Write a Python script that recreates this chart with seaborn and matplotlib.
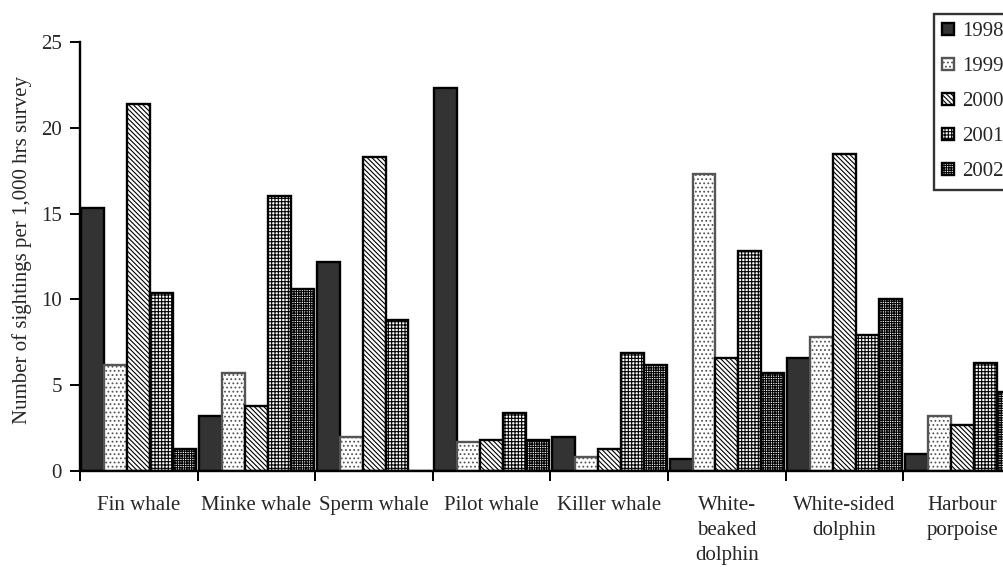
#!/usr/bin/env python3
# grouped bar chart: cetacean sightings rate per species and year
import pandas as pd
import matplotlib
matplotlib.use('Agg')
import matplotlib.pyplot as plt
import seaborn as sns

species = ['Fin whale', 'Minke whale', 'Sperm whale', 'Pilot whale', 'Killer whale',
           'White-\nbeaked\ndolphin', 'White-sided\ndolphin', 'Harbour\nporpoise']
years = ['1998', '1999', '2000', '2001', '2002']
y1998 = [15.3, 3.2, 12.2, 22.3, 2.0, 0.7, 6.6, 1.0]
y1999 = [6.2, 5.7, 2.0, 1.7, 0.8, 17.3, 7.8, 3.2]
y2000 = [21.4, 3.8, 18.3, 1.8, 1.3, 6.6, 18.5, 2.7]
y2001 = [10.4, 16.0, 8.8, 3.4, 6.9, 12.8, 7.9, 6.3]
y2002 = [1.3, 10.6, 0.0, 1.8, 6.2, 5.7, 10.0, 4.6]

rows = []
for yr, vals in zip(years, [y1998, y1999, y2000, y2001, y2002]):
    for sp, v in zip(species, vals):
        rows.append({'species': sp, 'year': yr, 'rate': v})
df = pd.DataFrame(rows)

sns.set_theme(style='white', rc={'axes.spines.top': False, 'axes.spines.right': False})
plt.rcParams['font.family'] = ['Liberation Serif', 'DejaVu Serif']
plt.rcParams['hatch.linewidth'] = 0.8

fs = 15
fills = {'1998': '#333333', '1999': 'white', '2000': 'white', '2001': 'white', '2002': 'white'}
edges = {'1998': 'black', '1999': '#555555', '2000': 'black', '2001': 'black', '2002': 'black'}
hatch_cols = {'1998': 'black', '1999': '#c8c8c8', '2000': '#111111', '2001': '#555555', '2002': '#111111'}
hatches = {'1998': '', '1999': '....', '2000': '\\' * 7, '2001': '+' * 5, '2002': '+' * 7}

fig = plt.figure(figsize=(10.04, 5.67), dpi=100)
ax = fig.add_axes([80 / 1004, 96 / 567, 941 / 1004, 429 / 567])

sns.barplot(data=df, x='species', y='rate', hue='year', order=species, hue_order=years,
            palette=fills, width=0.975, edgecolor='black', linewidth=1.7,
            legend=False, ax=ax)

for cont, yr in zip(ax.containers, years):
    for p in cont:
        p.set_facecolor(fills[yr])
        p.set_edgecolor(edges[yr])
        p.set_hatch(hatches[yr])
        if hasattr(p, 'set_hatchcolor'):
            p.set_hatchcolor(hatch_cols[yr])

ax.set_xlim(-0.5, len(species) - 0.5)
ax.set_ylim(0, 25)
ax.set_yticks([0, 5, 10, 15, 20, 25])
ax.set_xticks([i - 0.5 for i in range(len(species) + 1)])
ax.set_xticklabels([])
ax.set_xticks(range(len(species)), minor=True)
ax.set_xticklabels(species, minor=True, fontsize=fs, linespacing=1.42)
ax.tick_params(axis='x', which='minor', length=0, pad=18)
ax.tick_params(axis='x', which='major', direction='out', length=7, width=1.4, color='black', bottom=True)
ax.tick_params(axis='y', direction='out', length=7, width=1.4, color='black', left=True,
               labelsize=fs, pad=6)
for s in ['left', 'bottom']:
    ax.spines[s].set_color('black')
    ax.spines[s].set_linewidth(1.7)
ax.set_xlabel('')
ax.set_ylabel('Number of sightings per 1,000 hrs survey', fontsize=fs)
ax.yaxis.set_label_coords(-0.051, 0.515)

leg = fig.legend(handles=list(ax.containers), labels=years, loc='upper left',
                 bbox_to_anchor=(934 / 1004, 1 - 14 / 567), frameon=True, fancybox=False,
                 fontsize=fs, handlelength=0.55, handleheight=0.55, handletextpad=0.4,
                 labelspacing=0.77, borderpad=0.4, borderaxespad=0)
leg.get_frame().set_edgecolor('black')
leg.get_frame().set_linewidth(1.7)

plt.savefig('out.png', dpi=100)
